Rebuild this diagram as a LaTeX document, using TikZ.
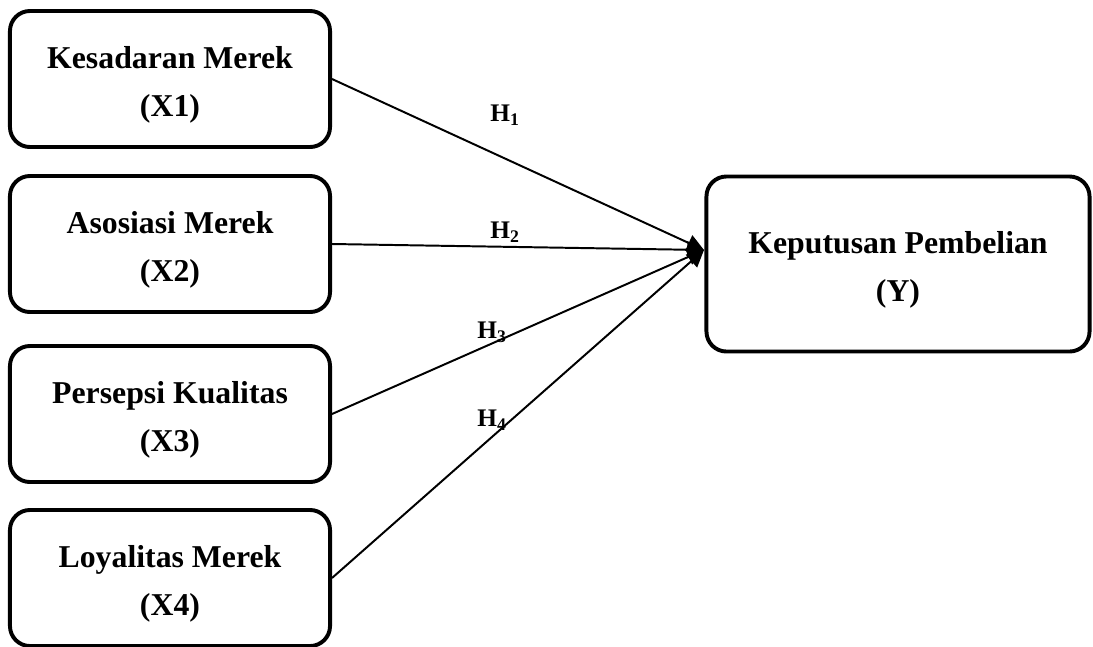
\documentclass[tikz,border=0pt]{standalone}
\usepackage{fontspec}
\setmainfont{Liberation Serif}
\usetikzlibrary{arrows.meta}
\newcommand{\toppad}{\rule{0pt}{24pt}}
\tikzset{
  varbox/.style={draw,line width=2.8pt,rounded corners=.5cm,align=center,
    minimum width=8cm,minimum height=3.4cm,font=\fontsize{22.6}{34}\selectfont\bfseries},
  hyplabel/.style={font=\fontsize{18}{20}\selectfont\bfseries},
  hyparrow/.style={line width=1.4pt,-{Triangle[length=.42cm,width=.42cm]}}
}
\begin{document}
\begin{tikzpicture}[x=.025cm,y=-.025cm]
\useasboundingbox (0,0) rectangle (1093,646);
\node[varbox] (x1) at (170,79) {\toppad Kesadaran Merek\\(X1)};
\node[varbox] (x2) at (170,244) {\toppad Asosiasi Merek\\(X2)};
\node[varbox] (x3) at (170,414) {\toppad Persepsi Kualitas\\(X3)};
\node[varbox] (x4) at (170,578) {\toppad Loyalitas Merek\\(X4)};
\node[varbox,minimum width=9.575cm,minimum height=4.375cm] (y) at (898,264) {\toppad Keputusan Pembelian\\(Y)};
\coordinate (meet) at (704,250);

\draw[hyparrow] (x1.east) -- (meet);
\draw[hyparrow] (x2.east) -- (meet);
\draw[hyparrow] (x3.east) -- (meet);
\draw[hyparrow] (x4.east) -- (meet);

\node[hyplabel] (h1) at (505,115) {H\textsubscript{1}};
\node[hyplabel] (h2) at (505,232) {H\textsubscript{2}};
\node[hyplabel] (h3) at (492,332) {H\textsubscript{3}};
\node[hyplabel] (h4) at (492,420) {H\textsubscript{4}};
\end{tikzpicture}
\end{document}
